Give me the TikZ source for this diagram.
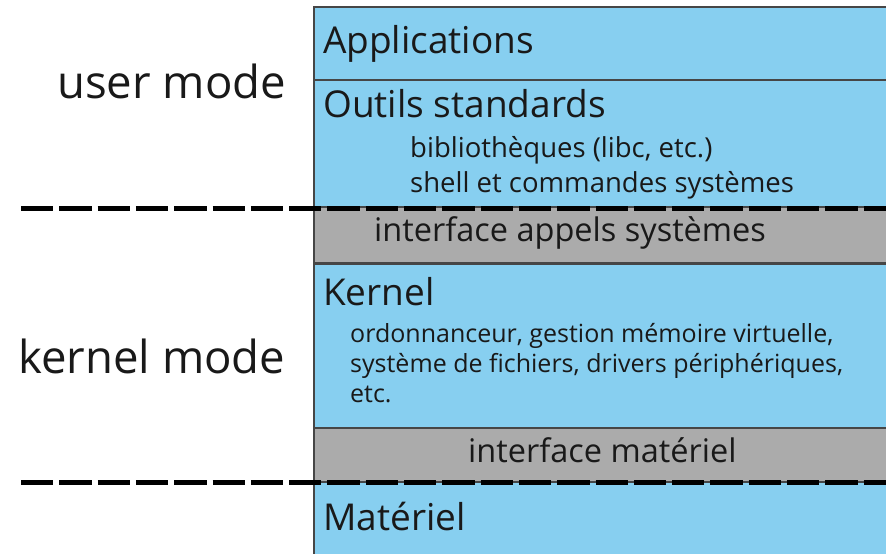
\documentclass[tikz,border=0pt]{standalone}
\usepackage{fontspec}
\setmainfont{Open Sans}
\definecolor{layerblue}{RGB}{135,207,240}
\definecolor{layergray}{RGB}{171,171,171}
\definecolor{edgegray}{RGB}{70,70,70}
\definecolor{txt}{RGB}{25,25,25}
\tikzset{
  bluebox/.style={fill=layerblue,draw=edgegray,line width=1.5pt},
  graybox/.style={fill=layergray,draw=edgegray,line width=1.5pt},
  bigtxt/.style={anchor=base west,inner sep=0pt,text=txt,font=\fontsize{37}{44}\selectfont},
  subtxt/.style={anchor=base west,inner sep=0pt,text=txt,font=\fontsize{27.5}{33}\selectfont},
  ifacetxt/.style={anchor=base west,inner sep=0pt,text=txt,font=\fontsize{32.5}{39}\selectfont},
  smalltxt/.style={anchor=base west,inner sep=0pt,text=txt,font=\fontsize{25}{30}\selectfont},
  modetxt/.style={anchor=base west,inner sep=0pt,text=txt,font=\fontsize{45.5}{52}\selectfont},
  sep/.style={line width=5pt,dash pattern=on 32.3pt off 6pt}
}
\begin{document}
\begin{tikzpicture}[x=1pt,y=-1pt]
\useasboundingbox (0,0) rectangle (886,554);
\fill[white] (0,0) rectangle (886,554);
% layers
\draw[bluebox] (314,7) rectangle (900,80);
\draw[bluebox] (314,80) rectangle (900,207);
\draw[graybox] (314,207) rectangle (900,263);
\draw[bluebox] (314,264) rectangle (900,428);
\draw[graybox] (314,428) rectangle (900,482);
\draw[bluebox] (314,482) rectangle (900,570);
% separators
\coordinate (s1a) at (21,208); \coordinate (s1b) at (900,208);
\coordinate (s2a) at (21,482); \coordinate (s2b) at (900,482);
\draw[sep] (s1a) -- (s1b);
\draw[sep] (s2a) -- (s2b);
% texts
\node[bigtxt] (app) at (323,53) {Applications};
\node[bigtxt] (outils) at (323,117) {Outils standards};
\node[subtxt] (biblio) at (410,157) {bibliothèques (libc, etc.)};
\node[subtxt] (shell) at (410,192) {shell et commandes systèmes};
\node[ifacetxt] (iface1) at (374,241) {interface appels systèmes};
\node[bigtxt] (kernel) at (323,305) {Kernel};
\node[smalltxt] (k1) at (350,342) {ordonnanceur, gestion mémoire virtuelle,};
\node[smalltxt] (k2) at (350,372) {système de fichiers, drivers périphériques,};
\node[smalltxt] (k3) at (350,402) {etc.};
\node[ifacetxt] (iface2) at (468,462) {interface matériel};
\node[bigtxt] (mat) at (323,530) {Matériel};
\node[modetxt] (user) at (57,98) {user mode};
\node[modetxt] (kmode) at (18,373) {kernel mode};
\end{tikzpicture}
\end{document}
